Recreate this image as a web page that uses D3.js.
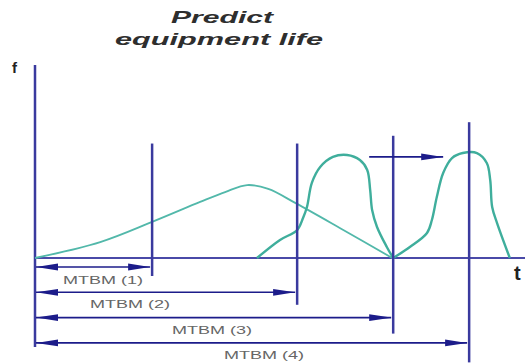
<!DOCTYPE html>
<html><head><meta charset="utf-8">
<script src="https://cdn.jsdelivr.net/npm/d3@7/dist/d3.min.js"></script>
<style>html,body{margin:0;padding:0;background:#fff;}svg{display:block;}</style>
</head><body>
<svg id="c" width="529" height="363"></svg>
<script>
// ---- data ----
const titleLines = ["Predict", "equipment life"];
const intervalLabels = ["MTBM (1)", "MTBM (2)", "MTBM (3)", "MTBM (4)"];
const intervalEnds = [23.9, 53.5, 73.1, 88.6];      // t at each maintenance marker
const markerHeights = [59, 59, 63, 70];             // f height of each marker line
// failure-density curves
const curve1T = [0, 13.3, 23.9, 33.7, 38.8, 43.3, 47.6, 53.1, 62.2, 72.9];
const curve1F = [0, 8.2, 18.6, 28.9, 34.0, 37.6, 35.6, 28.4, 15.5, 0];
const curve2T = [45.3, 50, 53.5, 54.7, 55.5, 56.5, 58.2, 60.8, 63.7, 66.3, 67.8, 68.4, 68.8, 69.8, 71.8, 73.1];
const curve2F = [0, 9.3, 14.4, 20.6, 26.3, 38.7, 46.9, 52.1, 53.1, 50.5, 45.4, 35.1, 24.7, 16, 5.7, 0];
const curve3T = [73.1, 76.5, 80, 81, 82, 83.3, 85.1, 87.3, 90.2, 92.2, 92.9, 93.3, 94.3, 96.9];
const curve3F = [0, 5.7, 12.9, 19.6, 31.4, 43.8, 51.5, 54.1, 54.1, 49, 40.2, 26.3, 18, 0];
const shiftArrowT = [68.2, 83.3];
const shiftArrowF = 52.1;

// ---- scales ----
const svg = d3.select("#c");
const x = d3.scaleLinear().domain([0, 100]).range([35, 525]);
const y = d3.scaleLinear().domain([0, 100]).range([258, 64]);

const blue = "#3a3a9e", navy = "#1c1c8a", teal = "#3fae9c";

const defs = svg.append("defs");
function marker(id, dir) {
  defs.append("marker").attr("id", id).attr("viewBox", "0 0 22 8")
    .attr("refX", dir > 0 ? 22 : 0).attr("refY", 4)
    .attr("markerWidth", 22).attr("markerHeight", 8)
    .attr("markerUnits", "userSpaceOnUse").attr("orient", "0")
    .append("path")
    .attr("d", dir > 0 ? "M0,0.6 L22,4 L0,7.4 Z" : "M22,0.6 L0,4 L22,7.4 Z")
    .attr("fill", navy);
}
marker("ar", 1); marker("al", -1);

// title
svg.append("g").selectAll("text").data(titleLines).join("text")
  .attr("x", (d, i) => i ? 219 : 222).attr("y", (d, i) => i ? 45 : 23)
  .attr("text-anchor", "middle")
  .attr("textLength", (d, i) => i ? 208 : 102).attr("lengthAdjust", "spacingAndGlyphs")
  .style("font", "italic bold 17px 'Liberation Sans', Arial, sans-serif")
  .attr("fill", "#2e2e2e").text(d => d);

// axis labels
svg.append("text").attr("x", 12).attr("y", 73).text("f")
  .style("font", "bold 15px 'Liberation Sans', Arial, sans-serif").attr("fill", "#222");
svg.append("text").attr("x", 514).attr("y", 280).text("t")
  .style("font", "bold 20px 'Liberation Sans', Arial, sans-serif").attr("fill", "#222");

// axes
const rowY = i => 267 + i * 25.3;
svg.append("line").attr("x1", x(0)).attr("x2", x(0)).attr("y1", 65).attr("y2", rowY(3) + 4)
  .attr("stroke", blue).attr("stroke-width", 2.5);
svg.append("line").attr("x1", x(0)).attr("x2", x(100)).attr("y1", y(0)).attr("y2", y(0))
  .attr("stroke", "#4a4aa8").attr("stroke-width", 2);

// curves
const curves = [
  {t: curve1T, f: curve1F, w: 1.8, c: "#52b8aa"},
  {t: curve2T, f: curve2F, w: 2.4, c: teal},
  {t: curve3T, f: curve3F, w: 2.4, c: teal}
];
const line = d3.line().x(p => x(p[0])).y(p => y(p[1])).curve(d3.curveCatmullRom.alpha(0.5));
svg.append("g").selectAll("path").data(curves).join("path")
  .attr("d", d => line(d.t.map((v, i) => [v, d.f[i]])))
  .attr("fill", "none").attr("stroke", d => d.c).attr("stroke-width", d => d.w);

// markers
svg.append("g").selectAll("line").data(intervalEnds).join("line")
  .attr("x1", d => x(d)).attr("x2", d => x(d))
  .attr("y1", (d, i) => y(markerHeights[i]))
  .attr("y2", (d, i) => rowY(i) + 9 + i * 3.5)
  .attr("stroke", blue).attr("stroke-width", 2.5);

// dimension arrows
svg.append("g").selectAll("line").data(intervalEnds).join("line")
  .attr("x1", x(0) + 1).attr("x2", d => x(d) - 2)
  .attr("y1", (d, i) => rowY(i)).attr("y2", (d, i) => rowY(i))
  .attr("stroke", navy).attr("stroke-width", 1.6)
  .attr("marker-start", "url(#al)").attr("marker-end", "url(#ar)");

// labels
const labelX = [103, 130, 212, 264];
const labelY = [284, 308, 334, 359];
svg.append("g").selectAll("text").data(intervalLabels).join("text")
  .attr("x", (d, i) => labelX[i]).attr("y", (d, i) => labelY[i])
  .attr("text-anchor", "middle")
  .attr("textLength", 80).attr("lengthAdjust", "spacingAndGlyphs")
  .style("font", "11px 'Liberation Sans', Arial, sans-serif")
  .attr("fill", "#666").text(d => d);

// shift arrow
svg.append("line").attr("x1", x(shiftArrowT[0])).attr("x2", x(shiftArrowT[1]))
  .attr("y1", y(shiftArrowF)).attr("y2", y(shiftArrowF))
  .attr("stroke", navy).attr("stroke-width", 1.8).attr("marker-end", "url(#ar)");
</script>
</body></html>
